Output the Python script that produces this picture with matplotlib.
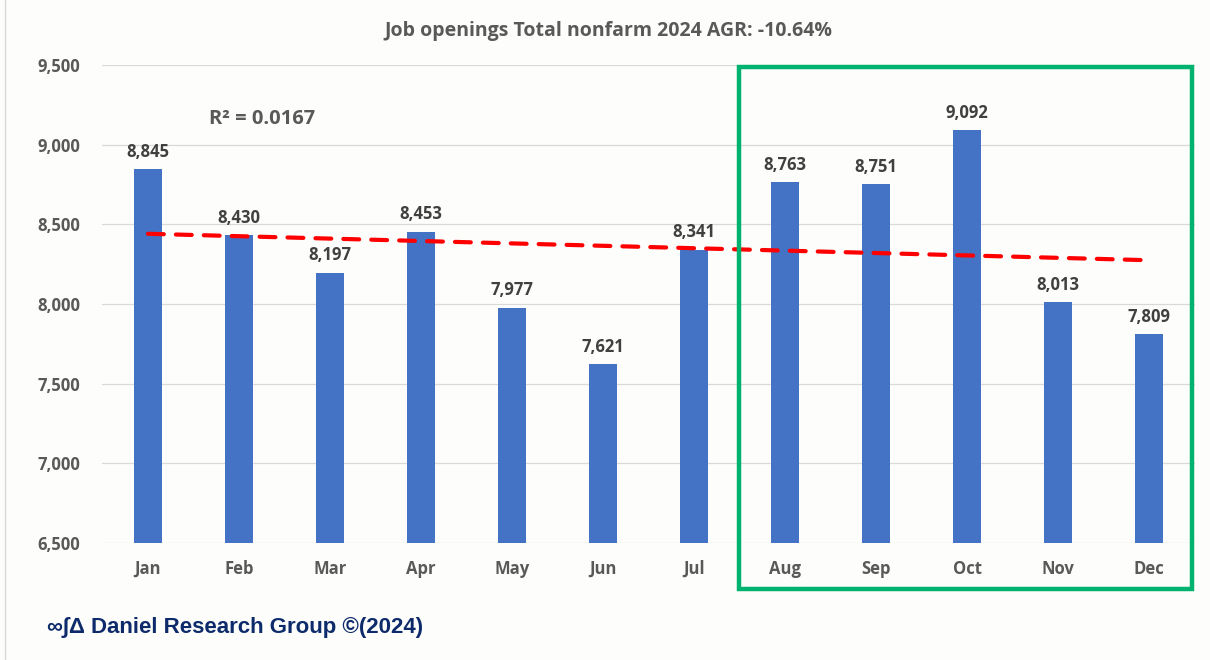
import numpy as np
import matplotlib; matplotlib.use('Agg')
import matplotlib.pyplot as plt
from matplotlib.patches import Rectangle
from matplotlib.lines import Line2D

months = ['Jan', 'Feb', 'Mar', 'Apr', 'May', 'Jun', 'Jul', 'Aug', 'Sep', 'Oct', 'Nov', 'Dec']
openings = [8845, 8430, 8197, 8453, 7977, 7621, 8341, 8763, 8751, 9092, 8013, 7809]
yticks = [6500, 7000, 7500, 8000, 8500, 9000, 9500]

title = 'Job openings Total nonfarm 2024 AGR: -10.64%'
r2_label = 'R\u00b2 = 0.0167'
footer = '\u221e\u222b\u0394 Daniel Research Group \u00a9(2024)'

grey = '#595959'
bg = '#fdfdfb'
font = ['Open Sans', 'DejaVu Sans']

fig = plt.figure(figsize=(12.1, 6.6), dpi=100, facecolor=bg)
ax = fig.add_axes([0.0847, 0.1773, 0.9025, 0.7242])
ax.set_facecolor(bg)

x = np.arange(len(months))
ax.bar(x, openings, width=0.31, color='#4472c4', zorder=2)

# linear trend
k, b = np.polyfit(x, openings, 1)
ax.plot(x, k * x + b, color='#ff0000', lw=3, linestyle=(0, (3.8, 2.9)),
        dash_capstyle='round', zorder=3)

for xi, v in zip(x, openings):
    ax.annotate(f'{v:,}', (xi, v), xytext=(0, 6), textcoords='offset points',
                ha='center', va='bottom', fontsize=12, fontweight='bold',
                color='#404040', family=font)

ax.text(0.146, 0.887, r2_label, transform=ax.transAxes, fontsize=14.5,
        fontweight='bold', color=grey, family=font, ha='center', va='center')

ax.set_xlim(-0.5, len(months) - 0.5)
ax.set_ylim(6500, 9500)
ax.set_yticks(yticks)
ax.set_yticklabels([f'{t:,}' for t in yticks], fontsize=12, fontweight='bold',
                   color=grey, family=font)
ax.set_xticks(x)
ax.set_xticklabels(months, fontsize=12, fontweight='bold', color=grey, family=font)
ax.tick_params(axis='y', length=0, pad=16)
ax.tick_params(axis='x', length=0, pad=12)
ax.grid(axis='y', color='#d9d9d9', lw=0.9, zorder=0)
for s in ax.spines.values():
    s.set_visible(False)

fig.text(0.5025, 0.953, title, ha='center', va='center', fontsize=14,
         fontweight='bold', color=grey, family=font)

# highlight box round Aug-Dec
fig.patches.append(Rectangle((739 / 1210, 1 - 589 / 660), 453 / 1210, 522 / 660,
                             transform=fig.transFigure, fill=False,
                             edgecolor='#00b26f', lw=3.2, zorder=5))

fig.add_artist(Line2D([5 / 1210, 5 / 1210], [0, 1], color='#d9d9d9', lw=1,
                      transform=fig.transFigure))

fig.text(47 / 1210, 1 - 627 / 660, footer, ha='left', va='center', fontsize=16,
         fontweight='bold', color='#0d2a6b',
         family=['Liberation Sans', 'DejaVu Sans'])

fig.savefig('out.png', dpi=100, facecolor=bg)
